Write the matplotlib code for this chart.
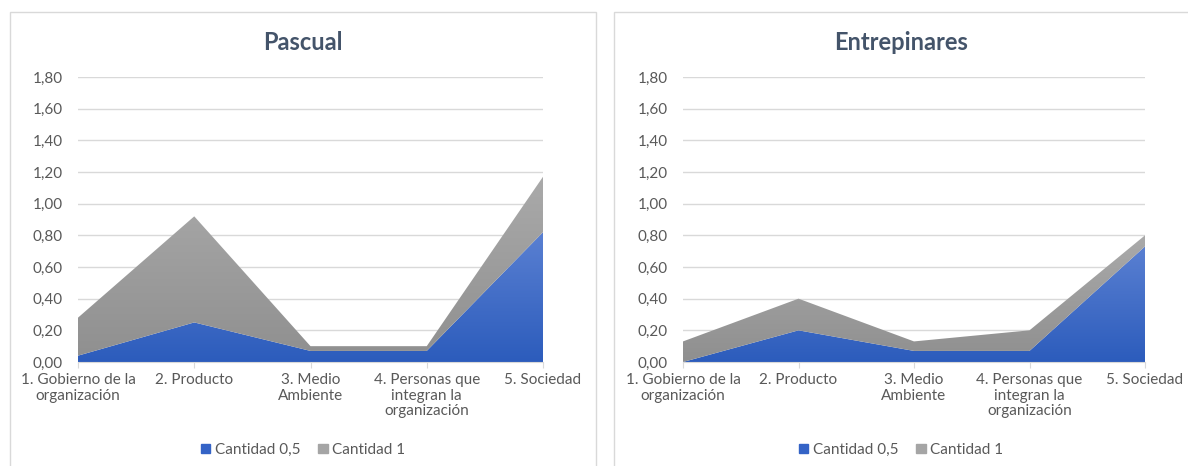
import numpy as np
import matplotlib.pyplot as plt
from matplotlib.patches import Rectangle

plt.rcParams['font.family'] = ['Lato', 'DejaVu Sans']

categorias = ["1. Gobierno de la\norganización", "2. Producto", "3. Medio\nAmbiente",
              "4. Personas que\nintegran la\norganización", "5. Sociedad"]
yticks = [0.0, 0.2, 0.4, 0.6, 0.8, 1.0, 1.2, 1.4, 1.6, 1.8]

titulos = ["Pascual", "Entrepinares"]
cantidad_05 = {
    "Pascual": [0.04, 0.25, 0.07, 0.07, 0.82],
    "Entrepinares": [0.00, 0.20, 0.07, 0.07, 0.73],
}
cantidad_1 = {
    "Pascual": [0.24, 0.67, 0.03, 0.03, 0.35],
    "Entrepinares": [0.13, 0.20, 0.06, 0.13, 0.07],
}

azul_top, azul_bot = "#5a80d2", "#2c5cbc"
gris_top, gris_bot = "#aaaaaa", "#8f8f8f"
txt = "#595959"

W, H = 1188, 466
fig = plt.figure(figsize=(W / 100, H / 100), dpi=100)

# marcos de cada grafico
fig.patches.append(Rectangle((10 / W, -0.05), 586 / W, 1 - 12 / H + 0.05,
                             transform=fig.transFigure, fill=False,
                             edgecolor="#d9d9d9", lw=1))
fig.patches.append(Rectangle((614 / W, -0.05), 0.6, 1 - 12 / H + 0.05,
                             transform=fig.transFigure, fill=False,
                             edgecolor="#d9d9d9", lw=1))


def gradient_fill(ax, x, y0, y1, c_top, c_bot, ymax):
    poly = ax.fill_between(x, y0, y1, color=c_bot, lw=0)
    cmap = plt.matplotlib.colors.LinearSegmentedColormap.from_list("g", [c_bot, c_top])
    grad = np.linspace(0, 1, 256).reshape(-1, 1)
    im = ax.imshow(grad, cmap=cmap, aspect="auto", origin="lower",
                   extent=[x[0], x[-1], 0, ymax], zorder=poly.get_zorder() + 0.1)
    im.set_clip_path(poly.get_paths()[0], transform=ax.transData)
    poly.set_alpha(0)


lefts = [78, 683]
anchos = [465, 462]
centros = [303, 901]
x = np.arange(len(categorias))
for i, nombre in enumerate(titulos):
    ax = fig.add_axes([lefts[i] / W, 1 - 362 / H, anchos[i] / W, 285 / H])
    b = np.array(cantidad_05[nombre])
    g = np.array(cantidad_1[nombre])
    gradient_fill(ax, x, np.zeros_like(b), b, azul_top, azul_bot, b.max())
    gradient_fill(ax, x, b, b + g, gris_top, gris_bot, (b + g).max())
    ax.set_xlim(0, 4)
    ax.set_ylim(0, 1.8)
    ax.set_yticks(yticks)
    ax.set_yticklabels([f"{v:.2f}".replace(".", ",") for v in yticks])
    ax.set_xticks(x)
    ax.set_xticklabels(categorias, linespacing=1.15)
    ax.grid(axis="y", color="#d9d9d9", lw=1)
    ax.set_axisbelow(True)
    for s in ["top", "right", "left"]:
        ax.spines[s].set_visible(False)
    ax.spines["bottom"].set_color("#d9d9d9")
    ax.tick_params(axis="y", length=0, pad=11, labelsize=11, labelcolor=txt)
    ax.tick_params(axis="x", length=4, color="#d9d9d9", labelsize=11, labelcolor=txt, pad=4)
    fig.text(centros[i] / W, 1 - 42 / H, nombre, fontsize=17, fontweight="bold",
             color="#44546a", ha="center", va="center")
    h1 = Rectangle((0, 0), 1, 1, color="#3463c6")
    h2 = Rectangle((0, 0), 1, 1, color="#a5a5a5")
    fig.legend([h1, h2], ["Cantidad 0,5", "Cantidad 1"], loc="center",
               bbox_to_anchor=(centros[i] / W, 1 - 450 / H), ncol=2, frameon=False,
               fontsize=11, handlelength=0.6, handleheight=0.6, handletextpad=0.3,
               columnspacing=1.2, labelcolor=txt)

fig.savefig("out.png", dpi=100)
